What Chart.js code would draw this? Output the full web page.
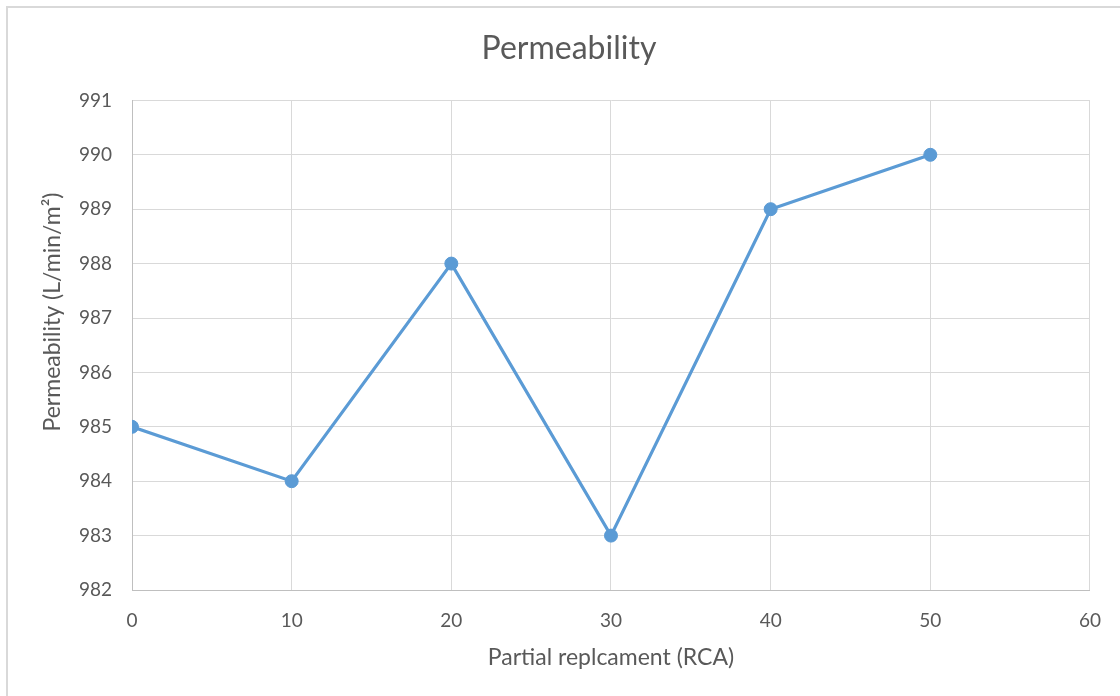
<!DOCTYPE html>
<html>
<head>
<meta charset="utf-8">
<script src="https://cdn.jsdelivr.net/npm/chart.js@4/dist/chart.umd.min.js"></script>
<style>
  html, body { margin: 0; padding: 0; background: #fff; }
  #wrap { width: 1120px; height: 696px; position: relative; }
</style>
</head>
<body>
<div id="wrap"><canvas id="c" width="1120" height="696"></canvas></div>
<script>
// Replacement levels (%) and measured permeability
const replacement = [0, 10, 20, 30, 40, 50];
const permeability = [985, 984, 988, 983, 989, 990];
const xTicks = [0, 10, 20, 30, 40, 50, 60];
const yTicks = [982, 983, 984, 985, 986, 987, 988, 989, 990, 991];
const yTitle = 'Permeability (L/min/m²)';

const FONT = "Lato, 'Open Sans', sans-serif";
const TEXT = '#595959';

// light frame around the whole chart
const framePlugin = {
  id: 'frame',
  beforeDraw(chart) {
    const ctx = chart.ctx;
    ctx.save();
    ctx.fillStyle = '#fff';
    ctx.fillRect(0, 0, chart.width, chart.height);
    ctx.fillStyle = '#d9d9d9';
    ctx.fillRect(6, 6, chart.width, 2);
    ctx.fillRect(6, 6, 2, chart.height);
    ctx.restore();
  }
};

// vertical axis title, centred on the frame rather than the plot area
const yTitlePlugin = {
  id: 'yTitle',
  afterDraw(chart) {
    const ctx = chart.ctx;
    ctx.save();
    ctx.translate(53, 312);
    ctx.rotate(-Math.PI / 2);
    ctx.fillStyle = TEXT;
    ctx.font = "23px " + FONT;
    ctx.textAlign = 'center';
    ctx.textBaseline = 'middle';
    ctx.fillText(yTitle, 0, 0);
    ctx.restore();
  }
};

new Chart(document.getElementById('c'), {
  type: 'line',
  data: {
    datasets: [{
      label: 'Permeability',
      data: replacement.map((x, i) => ({ x: x, y: permeability[i] })),
      borderColor: '#5b9bd5',
      backgroundColor: '#5b9bd5',
      borderWidth: 3.2,
      pointRadius: 6.5,
      pointBorderWidth: 1,
      pointBackgroundColor: '#5b9bd5',
      pointBorderColor: '#5b9bd5',
      tension: 0
    }]
  },
  options: {
    responsive: false,
    animation: false,
    devicePixelRatio: 1,
    layout: { padding: { left: 48, right: 30, top: 0, bottom: 24 } },
    plugins: {
      legend: { display: false },
      tooltip: { enabled: false },
      title: {
        display: true,
        text: 'Permeability',
        color: TEXT,
        font: { family: FONT, size: 32, weight: 'normal' },
        padding: { top: 29, bottom: 33 }
      }
    },
    scales: {
      x: {
        type: 'linear',
        min: 0,
        max: 60,
        afterBuildTicks(scale) { scale.ticks = xTicks.map(v => ({ value: v })); },
        afterFit(scale) { scale.height = 82; },
        grid: { color: '#d9d9d9', lineWidth: 1, drawTicks: false },
        border: { color: '#bfbfbf', width: 1 },
        ticks: { color: TEXT, font: { family: FONT, size: 19 }, padding: 19, maxRotation: 0 },
        title: {
          display: true,
          text: 'Partial replcament (RCA)',
          color: TEXT,
          font: { family: FONT, size: 23 },
          padding: { top: 0, bottom: 1 }
        }
      },
      y: {
        min: 982,
        max: 991,
        afterBuildTicks(scale) { scale.ticks = yTicks.map(v => ({ value: v })); },
        afterFit(scale) { scale.width = 84; },
        grid: { color: '#d9d9d9', lineWidth: 1, drawTicks: false },
        border: { color: '#bfbfbf', width: 1 },
        ticks: { color: TEXT, font: { family: FONT, size: 19 }, padding: 20 },
        title: { display: false }
      }
    }
  },
  plugins: [framePlugin, yTitlePlugin]
});
</script>
</body>
</html>
